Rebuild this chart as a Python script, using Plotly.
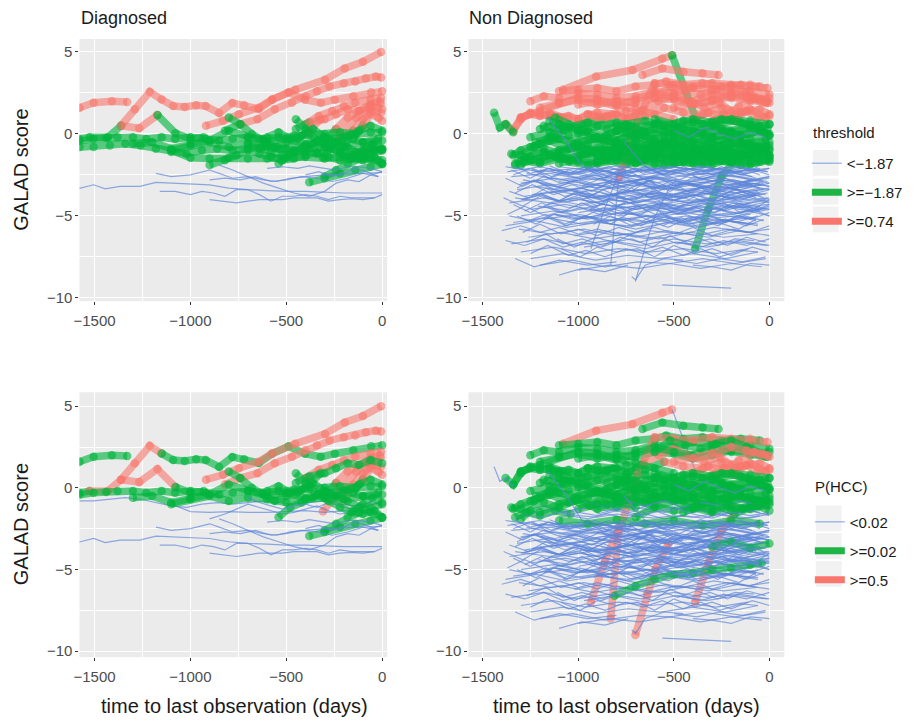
import plotly.graph_objects as go
from plotly.subplots import make_subplots

# ---------------- ticks / labels ----------------
X_TICKS = [-1500, -1000, -500, 0]
X_TICK_TEXT = ["\u22121500", "\u22121000", "\u2212500", "0"]
X_MINOR = [-1250, -750, -250]
Y_TICKS = [-10, -5, 0, 5]
Y_TICK_TEXT = ["\u221210", "\u22125", "0", "5"]
Y_MINOR = [-7.5, -2.5, 2.5]
FACETS = ["Diagnosed", "Non Diagnosed"]
Y_TITLE = "GALAD score"
X_TITLE = "time to last observation (days)"
THRESH_TITLE = "threshold"
THRESH_LABELS = ["<\u22121.87", ">=\u22121.87", ">=0.74"]
PHCC_TITLE = "P(HCC)"
PHCC_LABELS = ["<0.02", ">=0.02", ">=0.5"]

# class codes per point (segment i-1 -> i uses code i): b = low, g = mid, r = high
# ---------------- Diagnosed patients ----------------
DIAG_X = [
    [-1620, -1578, -1505, -1410, -1330],
    [-1362, -1290, -1212, -1150, -1090, -1030, -970, -920, -850, -781, -720, -643, -574, -488, -402, -320, -247, -150, -57, 0],
    [-919, -830, -747, -643, -574, -453, -298, -195, -100, -5],
    [-820, -740, -650, -560, -470, -400, -340, -274, -200, -140, -85, -33, -5],
    [-1620, -1580, -1526, -1431, -1362, -1267, -1172, -1078, -1000, -930],
    [-400, -330, -260, -200, -140, -60, -5],
    [-300, -240, -180, -120, -60, -10],
    [-309, -222, -136, -67, -7],
    [-200, -150, -100, -50, -5],
    [-150, -100, -60, -20, 0],
    [-450, -380, -300, -240, -180, -120, -60, 0],
    [-1620, -1578, -1505, -1440, -1380, -1300, -1230, -1150, -1080, -1000, -920, -850, -780, -700, -620, -540, -460, -380, -300, -220, -140, -60, 0],
    [-1620, -1578, -1505, -1420, -1340, -1260, -1180, -1100, -1020, -940, -860, -780, -700, -620, -540, -460, -380, -300, -220, -140, -60, 0],
    [-1100, -1000, -900, -800, -700, -600, -500, -400, -300, -200, -100, 0],
    [-1300, -1200, -1100, -1000, -900, -800, -700, -600, -500, -400, -300, -200, -100, -20],
    [-900, -820, -760, -700, -640, -580, -520, -460, -400, -340, -280, -220, -160, -100, -40, 0],
    [-800, -740, -680, -620, -560, -500, -440, -380, -320],
    [-540, -480, -420, -360, -300, -240, -180, -120, -60, 0],
    [-380, -300, -220, -140, -60, 0],
    [-1100, -1000, -900, -800, -700, -600, -500, -400, -300, -200, -100, 0],
    [-700, -640, -580, -520, -460, -400, -340, -280, -220, -160, -100, -40],
    [-600, -540, -480, -420, -360, -300, -240, -180, -120, -60, 0],
    [-450, -400, -340, -280, -220, -160, -100, -40, 0],
    [-300, -240, -180, -120, -60, 0],
    [-150, -100, -50, 0],
    [-1620, -1574, -1505, -1445, -1367, -1264, -1180, -1100, -1000, -900, -800, -700, -600, -500, -400, -300, -200, -100, 0],
    [-1180, -1100, -1000, -900, -850, -780, -700, -620, -550, -480, -400, -300, -200, -100, 0],
    [-1160, -1080, -1000, -940, -880, -820, -760, -700, -640, -580, -520, -460, -400, -340, -280, -220, -160, -100, -40],
    [-900, -820, -760, -700, -640, -580, -520, -460, -400, -340, -280, -220, -160, -100, -40, 0],
    [-900, -820, -740, -660, -580, -500, -420, -340, -260, -180, -100, -20],
    [-850, -780, -700, -620, -540, -460, -380, -300, -240, -180, -120, -60, 0],
    [-600, -520, -440, -380, -300, -240, -180, -120, -60, 0],
    [-400, -330, -260, -200, -140, -80, -20],
]
DIAG_Y = [
    [1.5, 1.6, 1.9, 2.0, 1.95],
    [0.5, 1.5, 2.57, 2.1, 1.7, 1.65, 1.75, 1.7, 1.28, 1.89, 1.75, 1.52, 2.09, 2.54, 2.09, 1.9, 2.09, 2.3, 2.54, 2.6],
    [0.5, 0.8, 1.2, 1.6, 2.1, 2.7, 3.3, 4.0, 4.4, 5.0],
    [0.2, 0.6, 0.9, 1.5, 1.9, 2.3, 2.6, 2.9, 3.1, 3.2, 3.4, 3.5, 3.45],
    [-0.4, -0.3, -0.2, -0.2, 0.5, 0.35, 1.15, 0.05, -0.3, -0.2],
    [0.6, 1.1, 1.4, 1.7, 1.9, 2.1, 2.2],
    [-0.5, 0.3, 1.0, 1.4, 1.8, 2.0],
    [-1.44, -0.22, 0.99, 1.56, 1.84],
    [-0.8, 0.2, 0.9, 1.4, 1.3],
    [-0.3, 0.5, 1.2, 1.0, 0.8],
    [0.3, 0.7, 0.9, 1.2, 1.5, 1.4, 1.7, 1.5],
    [-0.5, -0.4, -0.3, -0.25, -0.2, -0.2, -0.3, -0.2, -0.3, -0.2, -0.3, -0.4, -0.3, -0.2, -0.3, -0.2, -0.1, -0.1, 0.0, 0.1, 0.0, 0.1, 0.1],
    [-0.85, -0.8, -0.8, -0.7, -0.6, -0.7, -0.9, -1.1, -1.2, -1.0, -0.9, -1.0, -0.9, -0.8, -0.9, -1.0, -0.9, -0.8, -1.0, -1.1, -0.9, -1.0],
    [-1.0, -1.45, -1.5, -1.45, -1.5, -1.5, -1.45, -1.4, -1.5, -1.4, -1.5, -1.6],
    [-0.6, -0.5, -0.9, -0.6, -0.4, 0.2, -0.2, -0.5, -0.3, -0.6, -0.4, -0.2, -0.5, -0.3],
    [-1.9, -1.6, -1.3, -1.0, -1.2, -1.4, -1.6, -1.5, -1.3, -1.1, -1.4, -1.6, -1.5, -1.2, -1.0, -0.9],
    [1.0, 0.6, 0.0, -0.4, -0.8, -0.5, -0.3, 0.2, 0.9],
    [-1.8, -1.2, -0.9, -0.6, -0.2, -0.5, -0.8, -1.2, -1.5, -1.8],
    [-2.95, -2.7, -2.4, -2.2, -2.0, -1.84],
    [-1.0, -0.7, -0.5, -0.8, -0.6, -0.7, -0.9, -0.7, -0.6, -0.7, -0.5, -0.4],
    [-0.6, -0.9, -1.1, -1.3, -1.1, -1.0, -1.2, -0.9, -1.1, -1.3, -1.1, -0.7],
    [-0.2, 0.1, -0.3, -0.1, 0.3, -0.2, -0.5, -0.1, 0.2, 0.5, 0.2],
    [0.9, 0.3, -0.4, -0.8, -1.2, -1.5, -1.6, -1.4, -1.8],
    [-2.6, -2.2, -1.8, -1.5, -1.2, -1.0],
    [-1.4, -1.0, -0.6, -0.9],
    [-3.4, -3.3, -3.1, -3.35, -3.2, -3.2, -2.95, -3.0, -3.05, -3.1, -3.3, -3.4, -3.45, -3.5, -3.5, -3.55, -3.6, -3.6, -3.6],
    [-2.4, -2.6, -2.5, -2.2, -2.4, -2.7, -2.6, -2.8, -2.9, -2.7, -2.6, -2.5, -2.45, -2.4, -2.35],
    [-3.5, -3.5, -3.7, -3.5, -3.6, -3.8, -3.4, -3.4, -3.7, -4.1, -3.8, -3.8, -3.7, -3.8, -4.0, -3.8, -3.9, -3.9, -3.9],
    [-4.0, -4.1, -4.2, -4.1, -4.0, -4.0, -4.0, -3.9, -3.9, -3.9, -4.1, -4.0, -3.95, -4.0, -3.9, -3.7],
    [-2.8, -2.7, -2.8, -2.6, -2.9, -2.8, -2.6, -2.7, -2.9, -2.7, -2.4, -2.6],
    [-1.9, -2.2, -2.6, -3.0, -3.3, -3.6, -3.8, -3.5, -3.0, -2.8, -2.9, -2.5, -2.3],
    [-2.1, -2.0, -2.1, -1.95, -2.1, -2.2, -2.0, -2.0, -2.1, -2.3],
    [-2.5, -2.3, -2.6, -2.4, -2.1, -2.3, -2.6],
]
DIAG_THRESH = [
    "r", "r", "r", "ggrrrrrrrrrrr", "gggggrrggg", "grrrrrr", "ggrrrr", "ggrrr", "ggrrr", "ggrrr",
    "ggrrrrrr", "g", "g", "g", "g", "g", "ggggggggr", "g", "g", "g", "g", "g", "g", "g", "g",
    "b", "b", "b", "b", "b", "b", "b", "b",
]
DIAG_PHCC = [
    "g", "rrrrgggggggggggggggg", "r", "r", "gggrrrrrgg", "r", "ggrrrr", "r", "grrrr", "ggrrr",
    "g", "g", "b", "b", "g", "b", "g", "g", "g", "g", "b", "g", "g", "g", "g",
    "b", "b", "b", "b", "b", "b", "b", "b",
]

# ---------------- Non Diagnosed patients: extra mid-score ones ----------------
NOND_MID_X = [
    [-1280, -1180, -1080, -980, -880, -780, -680, -580, -480, -380, -280, -180, -80, 0],
    [-1220, -1120, -1020, -920, -820, -720, -620, -520, -420, -320, -220, -120, -20],
    [-1180, -1080, -980, -880, -780, -680, -580, -480, -380, -280, -180, -80, 0],
    [-1050, -950, -850, -750, -650, -550, -450, -350, -250, -150, -50],
    [-900, -800, -700, -600, -500, -400, -300, -200, -100, 0],
    [-1330, -1270, -1200, -1120, -1040],
    [-750, -650, -550, -450, -350, -250, -150, -50, 0],
    [-1000, -900, -800, -700, -600, -500, -400, -300, -200, -100, 0],
]
NOND_MID_Y = [
    [-1.4, -1.1, -1.5, -1.2, -1.0, -1.3, -1.5, -1.1, -1.3, -1.0, -1.2, -1.4, -1.1, -1.3],
    [-0.5, -0.2, -0.6, -0.3, -0.5, -0.1, -0.4, -0.6, -0.2, -0.5, -0.3, -0.6, -0.4],
    [0.5, 0.2, 0.6, 0.9, 0.5, 0.2, 0.7, 0.4, 0.2, 0.6, 0.8, 0.4, 0.6],
    [-1.7, -1.9, -1.6, -1.85, -1.6, -1.9, -1.7, -1.85, -1.6, -1.9, -1.7],
    [-0.2, -0.6, -0.9, -0.5, -0.8, -0.6, -0.9, -0.4, -0.7, -0.9],
    [-1.8, -1.5, -1.7, -1.4, -1.6],
    [0.4, 0.1, -0.1, 0.3, 0.0, 0.2, -0.1, 0.2, 0.0],
    [-1.3, -1.0, -1.2, -0.8, -1.1, -1.4, -1.2, -1.5, -1.1, -1.3, -1.0],
]
NOND_MID_THRESH = ["g", "g", "g", "g", "g", "g", "g", "g"]
NOND_MID_PHCC = ["b", "g", "g", "b", "g", "g", "g", "g"]

# ---------------- Non Diagnosed patients ----------------
NOND_X = [
    # upper trajectories
    [-1080, -906, -716, -560, -509, -380],
    [-664, -560, -450, -350, -266],
    [-1100, -1000, -900, -800, -700, -600, -540, -450, -350, -250, -150, -50],
    [-1250, -1180, -1100, -1000, -900, -800, -700, -600, -500, -400, -300, -200, -100, 0],
    [-1200, -1100, -1000, -900, -800, -700, -600, -500, -400, -300, -200, -100, -20],
    [-1340, -1300, -1250, -1200, -1150, -1100, -1050, -1000, -950, -900, -850, -800, -750, -700],
    [-1150, -1080, -1000, -900, -820, -740, -660, -580, -500, -420, -340, -260, -180, -100, -20],
    [-830, -790, -690, -600, -500, -400, -300, -200, -100, -10],
    [-934, -860, -787, -700, -600, -500, -400, -300, -200, -100, 0],
    [-701, -640, -597, -528, -450, -350, -250, -150, -50],
    [-389, -320, -251, -182, -100, -20],
    [-1380, -1340, -1300, -1250, -1200, -1150, -1100],
    [-1440, -1410, -1380, -1340],
    [-1000, -900, -800, -700, -600, -500, -400, -300, -200, -100, -10],
    [-950, -850, -750, -650, -550, -450, -350, -250, -150, -50, 0],
    [-600, -520, -440, -360, -280, -200, -120, -40, 0],
    [-400, -320, -240, -160, -80, -10],
    [-1300, -1200, -1100, -1000, -900, -800, -700, -600, -500],
    [-300, -240, -180, -120, -60, 0],
    [-500, -400, -300, -200, -120, -40, 0],
    # middle trajectories
    [-1340, -1300, -1200, -1100, -1000, -900, -800, -700, -600, -500, -400, -300, -200, -100, 0],
    [-1330, -1250, -1150, -1050, -950, -850, -750, -650, -550, -450, -350, -250, -150, -50],
    [-1300, -1200, -1100, -1000, -900, -800, -700, -600, -500, -400, -300, -200, -100, 0],
    [-1250, -1150, -1050, -950, -850, -750, -650, -550, -450, -350, -250, -150, -50],
    [-1200, -1100, -1000, -900, -800, -700, -600, -500, -400, -300, -200, -100, -10],
    [-1100, -1000, -900, -800, -700, -600, -500, -400, -300, -200, -100, 0],
    [-1000, -900, -800, -700, -600, -500, -400, -300, -200, -100, -10],
    [-900, -800, -700, -600, -500, -400, -300, -200, -100, 0],
    [-1150, -1050, -950, -850, -750, -650, -550, -450, -350, -250, -150, -50],
    [-800, -700, -600, -500, -400, -300, -200, -100, 0],
    [-700, -600, -500, -400, -300, -200, -100, -20],
    [-1300, -1250, -1180, -1100, -1020, -940, -860, -780, -700, -620, -540, -460, -380, -300, -220, -140, -60, 0],
    [-1350, -1300, -1230, -1150, -1080],
    [-1120, -1050, -960, -880, -800, -720],
    [-600, -500, -400, -300, -200, -100, 0],
    [-1250, -1150, -1050, -950, -850, -750, -650, -550, -450, -350, -250, -150, -50, 0],
    [-950, -850, -750, -650, -550, -450, -350, -250, -150, -50],
    [-450, -380, -300, -220, -140, -60, 0],
    [-1100, -1000, -900, -800, -700, -600, -500, -400, -300, -200, -100, 0],
    [-1200, -1100, -1000, -900, -800, -700],
    [-500, -420, -340, -260, -180, -100, -20],
    # lower trajectories
    [-1160, -1060, -980, -900, -800, -700, -600],
    [-760, -700, -650, -560, -460],
    [-1380, -1200, -1000, -800, -600, -400, -200, 0],
    [-1350, -1150, -950, -750, -550, -350, -150, -10],
    [-1300, -1120, -940, -760, -580, -400, -220, -40],
    [-1320, -1160, -980, -820, -640, -460, -280, -100, 0],
    [-1280, -1100, -920, -740, -560, -380, -200, -20],
    [-1360, -1180, -1000, -820, -640, -460, -280, -100],
    [-1250, -1070, -890, -710, -530, -350, -170, 0],
    [-1300, -1130, -960, -790, -620, -450, -280, -110, 0],
    [-1340, -1160, -980, -800, -620, -440, -260, -80],
    [-1200, -1040, -880, -720, -560, -400, -240, -80, 0],
    [-1100, -940, -780, -620, -460, -300, -140, 0],
    [-1150, -990, -830, -670, -510, -350, -190, -30],
    [-1050, -890, -730, -570, -410, -250, -90, 0],
    [-1000, -850, -700, -550, -400, -250, -100, 0],
    [-1270, -1100, -930, -760, -590, -420, -250, -80],
    [-1230, -1060, -890, -720, -550, -380, -210, -40],
    [-1330, -1150, -970, -790, -610, -430, -250, -70],
    [-1210, -1040, -870, -700, -530, -360, -190, -20],
    [-1180, -1000, -820, -640, -460, -280, -100, 0],
    [-950, -800, -650, -500, -350, -200, -50],
    [-900, -750, -600, -450, -300, -150, 0],
    [-850, -700, -550, -400, -250, -100, 0],
    [-800, -650, -500, -350, -200, -50],
    [-750, -600, -450, -300, -150, 0],
    [-1380, -1220, -1060, -900, -740, -580, -420, -260, -100],
    [-1310, -1140, -970, -800, -630, -460, -290, -120, 0],
    [-1260, -1090, -920, -750, -580, -410, -240, -70],
    [-1350, -1180, -1010, -840, -670, -500, -330, -160, 0],
    [-1300, -1130, -960, -790, -620, -450, -280, -110],
    [-1250, -1080, -910, -740, -570, -400, -230, -60],
    [-1200, -1030, -860, -690, -520, -350, -180, -20],
    [-1000, -840, -680, -520, -360, -200, -40],
    [-560, -400, -200],
    [-720, -700, -650, -550, -450],
    [-1370, -1200, -1030, -860, -690, -520, -350, -180, -10],
    [-1290, -1120, -950, -780, -610, -440, -270, -100],
    [-1240, -1070, -900, -730, -560, -390, -220, -50],
    [-1160, -990, -820, -650, -480, -310, -140, 0],
    [-1120, -950, -780, -610, -440, -270, -100],
    [-1080, -910, -740, -570, -400, -230, -60],
    [-1020, -860, -700, -540, -380, -220, -60],
    [-970, -810, -650, -490, -330, -170, -10],
    [-1330, -1230, -1100, -950, -800],
    [-1100, -980, -860, -740],
    [-400, -300, -200, -100, 0],
    [-500, -380, -260, -140, -20],
    [-1100, -950, -800, -650, -500, -350, -200, -50],
    [-1060, -900, -740, -580, -420, -260, -100],
    [-1020, -860, -700, -540, -380, -220, -60],
    [-980, -820, -660, -500, -340, -180, -20],
    [-940, -780, -620, -460, -300, -140, 0],
    [-1400, -1300, -1200, -1100, -1000, -900, -800],
    [-1380, -1280, -1180, -1080, -980, -880, -780],
    [-1360, -1240, -1120, -1000, -880, -760, -640, -520],
    [-860, -700, -540, -380, -220, -60],
    [-800, -640, -480, -320, -160, 0],
    [-760, -600, -440, -280, -120, 0],
    [-700, -560, -420, -280, -140, 0],
    [-650, -520, -390, -260, -130, 0],
    [-600, -480, -360, -240, -120, 0],
    [-1330, -1250, -1150, -1050, -950, -850, -750],
    [-1310, -1210, -1110, -1010, -910, -810, -710, -610],
    [-1290, -1190, -1090, -990, -890, -790, -690],
    [-540, -420, -300, -180, -60],
    [-480, -360, -240, -120, 0],
    [-1200, -1050, -900, -750, -600, -450, -300, -150, 0],
    [-1140, -990, -840, -690, -540, -390, -240, -90],
    [-880, -740, -600, -460, -320, -180, -40],
    [-400, -300, -200, -100, 0],
    [-300, -200, -100, 0],
    [-810, -700, -600, -500, -400, -300, -200, -100, -40],
    [-1050, -900, -800, -700, -600, -500, -400],
]
NOND_Y = [
    [2.7, 3.5, 3.9, 4.6, 4.8, 0.8],
    [3.6, 4.0, 3.8, 3.7, 3.6],
    [2.6, 2.7, 2.8, 2.6, 2.9, 3.0, 3.2, 3.0, 3.1, 2.9, 3.0, 2.9],
    [2.0, 2.3, 2.2, 2.5, 2.4, 2.2, 2.3, 2.6, 2.5, 2.8, 2.7, 2.5, 2.6, 2.4],
    [1.6, 1.9, 2.1, 1.8, 2.0, 1.9, 2.2, 2.1, 1.8, 2.0, 2.3, 2.2, 1.9],
    [0.2, 1.0, 1.2, 1.1, 1.2, 1.0, 1.1, 0.9, 1.2, 1.0, 1.1, 1.2, 0.9, 1.1],
    [1.3, 1.0, 0.9, 1.3, 1.2, 0.9, 1.5, 2.0, 2.4, 2.0, 1.6, 1.9, 1.2, 1.5, 1.0],
    [-8.0, -2.8, 0.8, 3.1, 3.0, 2.9, 3.1, 3.0, 3.0, 2.8],
    [-7.0, -4.5, -2.4, -2.6, -3.0, -2.8, -3.2, -2.9, -3.1, -2.8, -3.0],
    [-9.0, -6.5, -5.0, -3.4, -3.0, -3.3, -2.9, -3.1, -3.0],
    [-7.0, -4.6, -2.6, -1.6, -1.2, -1.0],
    [0.6, 0.2, 0.9, 1.3, 1.2, 1.1, 1.0],
    [1.3, 0.4, 0.6, 0.1],
    [1.8, 2.0, 1.7, 2.1, 2.5, 2.2, 2.0, 2.4, 2.2, 2.0, 1.9],
    [1.2, 1.0, 1.4, 1.1, 1.6, 1.3, 1.2, 1.6, 1.3, 1.5, 1.2],
    [2.2, 2.9, 2.6, 2.4, 2.7, 2.9, 2.5, 2.1, 2.2],
    [0.9, 1.3, 1.1, 1.7, 2.2, 2.0],
    [1.0, 1.4, 1.9, 2.2, 2.1, 1.8, 1.6, 1.2, 0.9],
    [0.8, 1.2, 0.9, 1.4, 1.0, 1.1],
    [1.6, 1.8, 2.1, 2.5, 2.3, 2.1, 1.9],
    # middle
    [-1.3, -1.0, -0.6, -0.3, -0.5, -0.2, -0.4, 0.0, -0.3, -0.1, -0.4, -0.2, 0.0, -0.3, -0.1],
    [-1.9, -1.6, -1.3, -1.5, -1.2, -1.4, -1.1, -1.3, -1.5, -1.2, -1.4, -1.6, -1.3, -1.5],
    [-1.6, -1.8, -1.5, -1.7, -1.8, -1.6, -1.75, -1.85, -1.7, -1.8, -1.6, -1.75, -1.85, -1.6],
    [-0.8, -0.4, -0.9, -0.6, -1.0, -0.7, -0.9, -0.6, -0.8, -1.0, -0.7, -0.5, -0.8],
    [0.3, 0.6, 0.2, 0.5, 0.7, 0.4, 0.6, 0.3, 0.7, 0.5, 0.2, 0.5, 0.3],
    [-1.1, -0.8, -1.2, -0.9, -1.3, -1.0, -0.7, -1.1, -0.9, -1.2, -1.0, -1.3],
    [0.0, -0.3, 0.2, -0.1, 0.3, 0.0, 0.2, -0.2, 0.1, 0.4, 0.0],
    [-1.6, -1.3, -1.6, -1.4, -1.8, -1.5, -1.3, -1.6, -1.4, -1.7],
    [0.8, 0.4, 0.7, 0.3, 0.6, 0.8, 0.5, 0.8, 0.6, 0.9, 0.7, 0.5],
    [-0.6, -0.3, -0.7, -0.4, -0.6, -0.3, -0.6, -0.8, -0.5],
    [-1.8, -1.2, -0.8, -1.3, -1.0, -1.4, -1.1, -0.9],
    [-1.9, -1.4, -0.9, -1.2, -0.8, -1.1, -0.6, -0.9, -0.5, -0.8, -0.4, -0.7, -0.9, -0.6, -0.9, -0.6, -0.9, -0.7],
    [-1.2, -1.3, -0.8, -0.2, 0.4],
    [1.0, 0.6, 0.1, -0.3, 0.2, 0.5],
    [0.9, 0.6, 0.9, 0.7, 0.9, 0.8, 0.6],
    [-0.2, 0.1, -0.1, 0.2, -0.2, 0.1, -0.1, 0.2, -0.1, 0.1, 0.3, -0.1, 0.2, -0.1],
    [-0.9, -1.2, -0.8, -1.1, -0.8, -1.2, -0.9, -1.1, -0.8, -1.1],
    [-1.5, -1.1, -1.4, -1.0, -1.3, -1.1, -1.4],
    [-1.8, -1.5, -1.7, -1.4, -1.7, -1.5, -1.2, -1.6, -1.85, -1.5, -1.7, -1.5],
    [-1.5, -1.0, -0.7, -1.3, -0.9, -1.2],
    [0.2, -0.2, 0.4, 0.0, -0.3, 0.1, -0.2],
    # lower
    [1.0, -0.5, -2.0, -2.3, -2.8, -2.5, -3.0],
    [-0.5, -1.3, -2.0, -2.4, -2.2],
    [-2.0, -2.3, -2.1, -2.4, -2.2, -2.5, -2.3, -2.1],
    [-2.6, -2.4, -2.8, -2.5, -2.7, -2.4, -2.6, -2.9],
    [-3.0, -2.7, -3.1, -2.8, -3.2, -2.9, -3.1, -2.8],
    [-3.4, -3.1, -3.5, -3.3, -3.0, -3.4, -3.2, -3.5, -3.3],
    [-3.8, -3.5, -3.9, -3.6, -3.9, -3.7, -3.4, -3.7],
    [-4.2, -3.9, -4.3, -4.0, -4.4, -4.1, -3.9, -4.2],
    [-4.6, -4.3, -4.7, -4.4, -4.6, -4.2, -4.5, -4.3],
    [-5.0, -4.7, -5.1, -4.8, -5.0, -4.6, -4.9, -4.7, -5.0],
    [-5.4, -5.1, -5.5, -5.2, -5.4, -5.0, -5.3, -5.1],
    [-2.2, -2.5, -2.2, -2.6, -2.3, -2.1, -2.4, -2.2, -2.5],
    [-2.9, -2.6, -3.0, -2.7, -2.9, -2.6, -2.9, -2.7],
    [-3.6, -3.3, -3.7, -3.4, -3.7, -3.3, -3.6, -3.4],
    [-4.1, -3.8, -4.2, -3.9, -4.2, -3.8, -4.1, -3.9],
    [-4.8, -4.5, -4.9, -4.5, -4.8, -4.4, -4.7, -4.5],
    [-2.4, -2.8, -2.5, -2.9, -2.6, -2.9, -2.5, -2.8],
    [-3.2, -3.5, -3.1, -3.5, -3.2, -3.6, -3.3, -3.1],
    [-3.9, -4.2, -3.8, -4.1, -3.8, -4.2, -4.0, -3.7],
    [-4.4, -4.7, -4.3, -4.6, -4.3, -4.7, -4.4, -4.6],
    [-5.2, -4.9, -5.3, -5.0, -5.2, -4.9, -5.2, -4.8],
    [-2.1, -2.4, -2.0, -2.3, -2.0, -2.3, -2.1],
    [-2.7, -3.0, -2.6, -3.0, -2.7, -3.0, -2.6],
    [-3.3, -3.0, -3.4, -3.1, -3.4, -3.0, -3.2],
    [-3.9, -3.6, -4.0, -3.6, -3.9, -3.6],
    [-4.5, -4.2, -4.6, -4.2, -4.5, -4.1],
    [-5.6, -5.3, -5.7, -5.4, -5.6, -5.2, -5.5, -5.2, -5.5],
    [-5.8, -6.1, -5.8, -6.2, -5.9, -6.1, -5.7, -6.0, -5.8],
    [-6.3, -6.0, -6.4, -6.1, -6.4, -6.0, -6.3, -6.1],
    [-6.7, -6.4, -6.8, -6.5, -6.8, -6.4, -6.7, -6.5, -6.8],
    [-7.2, -6.9, -7.3, -7.0, -7.2, -7.0, -7.3, -7.0],
    [-7.6, -7.3, -7.7, -7.4, -7.6, -7.3, -7.6, -7.2],
    [-8.0, -7.7, -8.1, -7.8, -7.9, -7.6, -7.9, -7.6],
    [-8.3, -8.0, -8.2, -7.9, -8.2, -7.9, -8.1],
    [-9.2, -9.3, -9.4],
    [-8.7, -8.9, -8.0, -7.6, -7.7],
    [-2.3, -2.0, -2.4, -2.1, -2.3, -2.0, -2.2, -2.0, -2.3],
    [-2.8, -3.1, -2.7, -3.0, -2.7, -3.1, -2.8, -3.0],
    [-3.7, -3.4, -3.8, -3.5, -3.8, -3.4, -3.7, -3.3],
    [-4.3, -4.0, -4.4, -4.1, -4.4, -4.0, -4.3, -4.0],
    [-4.9, -5.2, -4.8, -5.1, -4.8, -5.1, -4.9],
    [-5.6, -5.3, -5.7, -5.3, -5.6, -5.3, -5.5],
    [-6.2, -5.9, -6.3, -5.9, -6.2, -5.8, -6.1],
    [-6.9, -6.6, -7.0, -6.6, -6.9, -6.6, -6.8],
    [-7.6, -8.1, -7.7, -8.0, -7.8],
    [-8.6, -8.2, -8.4, -8.0],
    [-8.0, -8.1, -8.3, -7.9, -8.0],
    [-7.7, -7.9, -7.6, -7.8, -7.5],
    [-2.0, -2.2, -1.95, -2.2, -2.0, -2.3, -2.0, -2.2],
    [-3.0, -3.3, -2.9, -3.3, -3.0, -3.3, -2.9],
    [-3.5, -3.8, -3.4, -3.8, -3.5, -3.9, -3.5],
    [-4.0, -4.4, -4.0, -4.3, -4.0, -4.4, -4.0],
    [-4.6, -5.0, -4.6, -4.9, -4.5, -4.9, -4.6],
    [-5.9, -5.6, -6.0, -5.7, -6.1, -5.8, -6.1],
    [-6.5, -6.8, -6.4, -6.9, -6.6, -6.9, -6.5],
    [-5.0, -5.3, -4.9, -5.2, -4.9, -5.3, -5.0, -5.3],
    [-5.4, -5.8, -5.4, -5.7, -5.3, -5.6],
    [-6.0, -6.4, -6.0, -6.3, -5.9, -6.2],
    [-2.4, -2.1, -2.5, -2.1, -2.4, -2.1],
    [-3.1, -3.4, -3.0, -3.4, -3.1, -3.4],
    [-3.8, -4.1, -3.7, -4.1, -3.8, -4.2],
    [-4.4, -4.8, -4.4, -4.7, -4.3, -4.6],
    [-2.0, -2.4, -2.1, -2.5, -2.2, -2.6, -2.3],
    [-3.1, -2.8, -3.2, -2.9, -3.3, -2.9, -3.2, -2.8],
    [-4.0, -3.7, -4.1, -3.7, -4.0, -3.6, -3.9],
    [-5.1, -5.5, -5.1, -5.4, -5.0],
    [-6.6, -6.9, -6.5, -6.8, -6.4],
    [-3.0, -3.4, -3.1, -3.6, -3.2, -3.5, -3.1, -3.4, -3.0],
    [-2.3, -2.7, -2.4, -2.8, -2.4, -2.7, -2.3, -2.6],
    [-3.6, -4.0, -3.6, -3.9, -3.6, -4.0, -3.7],
    [-2.6, -2.9, -2.5, -2.8, -2.6],
    [-3.6, -3.3, -3.7, -3.4],
    [-6.6, -6.0, -5.6, -5.3, -5.2, -5.0, -4.9, -4.7, -4.6],
    [-4.5, -4.2, -4.0, -3.7, -3.6, -3.6, -3.8],
]
NOND_THRESH = (
    ["rrrrrg", "r", "r", "r", "r", "r", "r", "bbrrrrrrrr", "b", "b", "g", "r", "g", "r", "r", "r", "r", "r", "r", "r"]
    + ["g"] * 20
    + ["b"] * 74
)
NOND_PHCC = (
    ["rrrrrb", "g", "g", "g", "g", "g", "gggggggrrrrrrrr", "r", "rrrbbbbbbbb", "rrrrbbbbb", "rrrrgg", "g", "b",
     "g", "gggggrrrrrr", "g", "r", "g", "r", "r"]
    + ["g", "b", "b", "g", "g", "b", "g", "b", "g", "g", "g", "g", "g", "g", "g", "g", "b", "g", "b", "g"]
    + ["b", "b", "b", "b", "b", "b", "b", "b", "b", "b", "b", "b", "b", "b", "b", "b",
       "b", "b", "b", "b", "b", "b", "b", "b", "b", "b", "b", "b", "b", "b", "b", "b",
       "b", "b", "b", "b", "b", "b", "b", "b", "b", "b", "b", "b", "b", "b", "b", "b",
       "bbbbbbbr", "g", "b", "b", "b", "b", "b", "b", "b", "b", "b", "b", "b", "b", "b", "b",
       "b", "b", "b", "b", "b", "b", "b", "b", "g", "g"]
)

# further low-score Non Diagnosed patients (low class in both rows)
NOND_LOW_X = [
    [-1340, -1250, -1150, -1060, -950, -850, -760, -650, -550, -440, -350, -250, -140, -50],
    [-1320, -1230, -1120, -1030, -930, -840, -730, -630, -520, -430, -330, -220, -130, -30],
    [-1300, -1200, -1110, -1010, -900, -810, -710, -600, -510, -410, -300, -210, -110, -10],
    [-1280, -1190, -1080, -990, -890, -780, -690, -590, -480, -390, -290, -180, -90, 0],
    [-1260, -1170, -1070, -960, -870, -770, -660, -570, -470, -370, -260, -170, -70],
    [-1240, -1140, -1050, -950, -840, -750, -650, -540, -450, -350, -250, -140, -50],
    [-1220, -1130, -1020, -930, -830, -720, -630, -530, -420, -330, -230, -130, -30],
    [-1200, -1100, -1010, -900, -810, -710, -600, -510, -410, -300, -210, -110, -10],
    [-1180, -1090, -980, -890, -790, -680, -590, -490, -380, -290, -190, -80, 0],
    [-1160, -1060, -970, -870, -760, -670, -570, -460, -370, -270, -160, -70],
    [-1380, -1290, -1180, -1090, -990, -880, -790, -690, -580, -490, -390, -280, -190, -90],
    [-1360, -1260, -1170, -1070, -960, -870, -770, -660, -570, -470, -360, -270, -170, -70],
    [-1340, -1250, -1140, -1050, -950, -840, -750, -650, -540, -450, -350, -240, -150, -50],
    [-1320, -1220, -1130, -1030, -920, -830, -730, -620, -530, -430, -320, -230, -130, -30],
    [-1000, -910, -800, -710, -610, -500, -410, -310, -200, -110, -10],
    [-980, -880, -790, -690, -580, -490, -390, -280, -190, -90, 0],
    [-960, -870, -760, -670, -570, -460, -370, -270, -160, -70],
    [-940, -840, -750, -650, -540, -450, -350, -240, -150, -50],
    [-920, -830, -720, -630, -530, -420, -330, -230, -120, -30],
    [-1150, -1050, -960, -860, -750, -660, -560, -450, -360, -260, -150, -60],
    [-1290, -1200, -1090, -1000, -900, -790, -700, -600, -490, -400, -300, -190, -100, 0],
    [-1270, -1170, -1080, -980, -870, -780, -680, -570, -480, -380, -270, -180, -80],
    [-1250, -1160, -1050, -960, -860, -750, -660, -560, -450, -360, -260, -150, -60],
    [-860, -770, -660, -570, -470, -360, -270, -170, -70],
    [-820, -720, -630, -530, -420, -330, -230, -120, -30],
    [-780, -690, -580, -490, -390, -280, -190, -90, 0],
    [-1390, -1290, -1200, -1100, -990, -900, -800, -690, -600],
    [-1370, -1280, -1170, -1080, -980, -870, -780, -680],
    [-1350, -1250, -1160, -1060, -950, -860, -760],
    [-1330, -1240, -1130, -1040, -940, -830],
    [-650, -560, -450, -360, -260, -150, -60],
    [-620, -520, -430, -330, -220, -130, -30],
    [-580, -490, -380, -290, -190, -80, 0],
    [-560, -460, -370, -270, -160, -70],
    [-1110, -1020, -910, -820, -720, -610, -520, -420, -310, -220, -120, -20],
    [-1090, -990, -900, -800, -690, -600, -500, -390, -300, -200, -90, 0],
]
NOND_LOW_Y = [
    [-2.5, -2.1, -2.7, -2.3, -2.6, -2.2, -2.6, -2.0, -2.5, -2.3, -2.8, -2.3, -2.1, -2.5],
    [-3.3, -2.8, -3.4, -3.1, -3.5, -3.0, -3.3, -2.9, -3.5, -3.0, -3.4, -3.1, -3.3, -3.0],
    [-4.0, -3.7, -4.1, -3.6, -4.2, -3.9, -4.0, -3.5, -4.1, -3.8, -4.3, -3.7, -4.0, -3.9],
    [-4.7, -4.2, -4.8, -4.5, -4.9, -4.4, -4.6, -4.3, -4.9, -4.5, -4.8, -4.4, -4.7, -4.3],
    [-5.3, -4.9, -5.5, -5.0, -5.4, -5.1, -5.3, -4.8, -5.4, -5.2, -5.5, -5.0, -5.2],
    [-2.1, -2.6, -2.2, -2.5, -2.0, -2.4, -2.1, -2.6, -2.2, -2.5, -2.0, -2.5, -2.2],
    [-2.9, -3.4, -2.8, -3.1, -2.9, -3.5, -2.8, -3.2, -3.0, -3.3, -2.7, -3.2, -2.9],
    [-3.6, -4.1, -3.5, -3.9, -3.7, -4.1, -3.4, -3.9, -3.6, -4.1, -3.5, -3.8, -3.6],
    [-4.4, -4.8, -4.2, -4.7, -4.4, -5.0, -4.3, -4.6, -4.5, -4.8, -4.2, -4.7, -4.4],
    [-5.1, -5.6, -5.0, -5.3, -5.2, -5.6, -4.9, -5.4, -5.1, -5.6, -5.0, -5.3],
    [-2.7, -3.2, -2.6, -3.0, -2.8, -3.2, -2.5, -3.0, -2.7, -3.2, -2.6, -2.9, -2.8, -3.1],
    [-3.5, -3.9, -3.3, -3.8, -3.5, -4.1, -3.4, -3.7, -3.6, -3.9, -3.3, -3.8, -3.4, -3.9],
    [-4.3, -4.8, -4.2, -4.5, -4.3, -4.8, -4.1, -4.6, -4.4, -4.7, -4.2, -4.6, -4.2, -4.7],
    [-5.0, -5.5, -4.9, -5.2, -5.1, -5.5, -4.8, -5.3, -5.0, -5.4, -4.9, -5.4, -5.0, -5.3],
    [-2.3, -2.0, -2.5, -2.1, -2.4, -2.0, -2.2, -2.0, -2.5, -2.1, -2.3],
    [-3.2, -2.7, -3.3, -2.9, -3.5, -2.9, -3.1, -2.8, -3.4, -3.0, -3.2],
    [-3.9, -3.4, -4.0, -3.7, -4.1, -3.6, -3.8, -3.5, -4.1, -3.7],
    [-4.6, -4.1, -4.7, -4.3, -4.9, -4.3, -4.5, -4.2, -4.8, -4.4],
    [-5.5, -5.0, -5.6, -5.3, -5.7, -5.1, -5.5, -5.2, -5.6, -5.2],
    [-1.95, -2.4, -2.0, -2.3, -1.95, -2.4, -2.0, -2.3, -1.95, -2.3, -2.0, -2.3],
    [-6.0, -5.5, -6.1, -5.8, -6.2, -5.7, -6.0, -5.7, -6.1, -5.7, -6.2, -5.8, -6.0, -5.6],
    [-6.6, -6.1, -6.7, -6.4, -6.8, -6.3, -6.6, -6.3, -6.7, -6.3, -6.8, -6.4, -6.5],
    [-7.3, -6.8, -7.4, -7.1, -7.5, -7.0, -7.3, -6.9, -7.4, -7.0, -7.5, -7.1, -7.2],
    [-2.6, -2.1, -2.7, -2.4, -2.8, -2.2, -2.6, -2.3, -2.7],
    [-3.8, -3.3, -3.9, -3.6, -4.0, -3.4, -3.8, -3.5, -3.9],
    [-4.9, -4.4, -5.0, -4.7, -5.1, -4.5, -4.9, -4.6, -5.0],
    [-3.9, -4.4, -3.8, -4.1, -3.9, -4.4, -3.7, -4.2, -3.9],
    [-4.9, -4.4, -5.0, -4.7, -5.1, -4.5, -4.9, -4.5],
    [-2.2, -2.7, -2.1, -2.4, -2.2, -2.7, -2.1],
    [-3.6, -3.1, -3.7, -3.4, -3.8, -3.2],
    [-2.0, -2.5, -2.0, -2.4, -2.1, -2.5, -2.0],
    [-3.4, -2.9, -3.5, -3.2, -3.6, -3.0, -3.4],
    [-4.1, -4.6, -4.0, -4.3, -4.1, -4.6, -4.0],
    [-5.6, -5.1, -5.7, -5.4, -5.8, -5.2],
    [-6.4, -6.9, -6.3, -6.6, -6.4, -6.9, -6.2, -6.7, -6.4, -6.8, -6.3, -6.6],
    [-7.0, -7.5, -6.9, -7.2, -7.0, -7.5, -6.8, -7.3, -7.0, -7.4, -6.9, -7.2],
]

# ---------------- styling ----------------
W, H = 919, 722
FONT = "Liberation Sans, Arial, Helvetica, sans-serif"
COL_LINE = {"b": "rgba(92,132,218,0.68)", "g": "rgba(0,180,62,0.62)", "r": "rgba(248,118,109,0.6)"}
COL_KEY = {"b": "rgba(96,136,220,0.55)", "g": "rgb(30,180,70)", "r": "rgb(248,118,109)"}

XD = {1: [73 / W, 383 / W], 2: [465 / W, 783.3 / W]}
YD = {1: [1 - 303.3 / H, 1 - 39.3 / H], 2: [1 - 661.7 / H, 1 - 395 / H]}
XR = {1: [-1579, 26], 2: [-1574, 78]}
YR = {1: [-10.2, 5.79], 2: [-10.36, 5.85]}

fig = make_subplots(rows=2, cols=2)


def code_at(codes, i, n):
    return codes[i] if len(codes) == n else codes[0]


def draw_run(xs, ys, k, row, col):
    if k == "b":
        tr = go.Scatter(x=xs, y=ys, mode="lines", line=dict(color=COL_LINE["b"], width=1.2),
                        showlegend=False, hoverinfo="skip")
    else:
        tr = go.Scatter(x=xs, y=ys, mode="lines+markers", line=dict(color=COL_LINE[k], width=7.5),
                        marker=dict(color=COL_LINE[k], size=8.5, line=dict(width=0)),
                        showlegend=False, hoverinfo="skip")
    fig.add_trace(tr, row=row, col=col)


def add_patient(xs, ys, codes, row, col):
    n = len(xs)
    start = 0
    cur = code_at(codes, 1, n)
    for i in range(2, n):
        c = code_at(codes, i, n)
        if c != cur:
            draw_run(xs[start:i], ys[start:i], cur, row, col)
            start = i - 1
            cur = c
    draw_run(xs[start:n], ys[start:n], cur, row, col)


for xs, ys, t, p in zip(DIAG_X, DIAG_Y, DIAG_THRESH, DIAG_PHCC):
    add_patient(xs, ys, t, 1, 1)
    add_patient(xs, ys, p, 2, 1)
for xs, ys, t, p in zip(NOND_MID_X, NOND_MID_Y, NOND_MID_THRESH, NOND_MID_PHCC):
    add_patient(xs, ys, t, 1, 2)
    add_patient(xs, ys, p, 2, 2)
for xs, ys, t, p in zip(NOND_X, NOND_Y, NOND_THRESH, NOND_PHCC):
    add_patient(xs, ys, t, 1, 2)
    add_patient(xs, ys, p, 2, 2)
for xs, ys in zip(NOND_LOW_X, NOND_LOW_Y):
    add_patient(xs, ys, "b", 1, 2)
    add_patient(xs, ys, "b", 2, 2)

# legend entries
for lab, k in zip(THRESH_LABELS, "bgr"):
    fig.add_trace(go.Scatter(x=[None], y=[None], mode="lines", name=lab, legend="legend", legendgroup="t" + k,
                             line=dict(color=COL_KEY[k], width=1.5 if k == "b" else 7)), row=1, col=2)
for lab, k in zip(PHCC_LABELS, "bgr"):
    fig.add_trace(go.Scatter(x=[None], y=[None], mode="lines", name=lab, legend="legend2", legendgroup="p" + k,
                             line=dict(color=COL_KEY[k], width=1.5 if k == "b" else 7)), row=2, col=2)

for r in (1, 2):
    for c in (1, 2):
        fig.update_xaxes(domain=XD[c], range=XR[c], tickmode="array", tickvals=X_TICKS, ticktext=X_TICK_TEXT,
                         showgrid=True, gridcolor="white", gridwidth=1.1, zeroline=False,
                         ticks="outside", ticklen=3, tickwidth=1.1, tickcolor="#333333",
                         tickfont=dict(size=15, color="#4D4D4D", family=FONT), showline=False,
                         ticklabelstandoff=3,
                         minor=dict(tickmode="array", tickvals=X_MINOR, showgrid=True, gridcolor="white",
                                    gridwidth=0.55, ticks=""),
                         row=r, col=c)
        fig.update_yaxes(domain=YD[r], range=YR[r], tickmode="array", tickvals=Y_TICKS, ticktext=Y_TICK_TEXT,
                         showgrid=True, gridcolor="white", gridwidth=1.1, zeroline=False,
                         ticks="outside", ticklen=3, tickwidth=1.1, tickcolor="#333333",
                         tickfont=dict(size=15, color="#4D4D4D", family=FONT), showline=False,
                         minor=dict(tickmode="array", tickvals=Y_MINOR, showgrid=True, gridcolor="white",
                                    gridwidth=0.55, ticks=""),
                         row=r, col=c)

ann = [
    dict(text=FACETS[0], x=73 / W, y=1 - 18 / H, xanchor="left", yanchor="middle", font=dict(size=18)),
    dict(text=FACETS[1], x=464 / W, y=1 - 18 / H, xanchor="left", yanchor="middle", font=dict(size=18)),
    dict(text=Y_TITLE, x=14 / W, y=1 - 171 / H, textangle=-90, xanchor="center", yanchor="middle", font=dict(size=20)),
    dict(text=Y_TITLE, x=14 / W, y=1 - 528 / H, textangle=-90, xanchor="center", yanchor="middle", font=dict(size=20)),
    dict(text=X_TITLE, x=229 / W, y=1 - 711 / H, xanchor="center", yanchor="middle", font=dict(size=20)),
    dict(text=X_TITLE, x=624 / W, y=1 - 711 / H, xanchor="center", yanchor="middle", font=dict(size=20)),
    dict(text=THRESH_TITLE, x=810 / W, y=1 - 133 / H, xanchor="left", yanchor="middle", font=dict(size=15)),
    dict(text=PHCC_TITLE, x=812 / W, y=1 - 490 / H, xanchor="left", yanchor="middle", font=dict(size=15)),
]
for a in ann:
    a.update(xref="paper", yref="paper", showarrow=False)
    a["font"].update(family=FONT, color="#1A1A1A")

# legend key backgrounds
shapes = []
for yc in (164, 193, 221):
    shapes.append(dict(type="rect", xref="paper", yref="paper", x0=812 / W, x1=838 / W,
                       y0=1 - (yc + 13) / H, y1=1 - (yc - 13) / H, fillcolor="#F2F2F2", line=dict(width=0), layer="below"))
for yc in (522, 550, 578):
    shapes.append(dict(type="rect", xref="paper", yref="paper", x0=815 / W, x1=841 / W,
                       y0=1 - (yc + 13) / H, y1=1 - (yc - 13) / H, fillcolor="#F2F2F2", line=dict(width=0), layer="below"))

fig.update_layout(
    width=W, height=H, margin=dict(l=0, r=0, t=0, b=0),
    paper_bgcolor="white", plot_bgcolor="#EBEBEB",
    font=dict(family=FONT, color="#1A1A1A"),
    annotations=ann, shapes=shapes, hovermode=False,
    legend=dict(x=806 / W, y=1 - 148 / H, xanchor="left", yanchor="top", font=dict(size=15),
                bgcolor="rgba(0,0,0,0)", tracegroupgap=6.5, itemwidth=30),
    legend2=dict(x=809 / W, y=1 - 509 / H, xanchor="left", yanchor="top", font=dict(size=15),
                 bgcolor="rgba(0,0,0,0)", tracegroupgap=6.5, itemwidth=30),
)

fig.write_html("out.html", config={"displayModeBar": False},
               post_script="document.body.style.margin='0';document.body.style.overflow='hidden';")
